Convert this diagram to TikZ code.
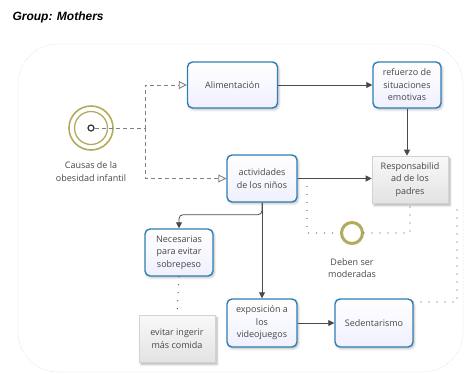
\documentclass[tikz,border=0pt]{standalone}
\usepackage{fontspec}
\setmainfont{Open Sans}
\newfontfamily\titlefont{Liberation Sans}
\usetikzlibrary{arrows.meta,shadows.blur}
\definecolor{boxblue}{HTML}{2E7DB5}
\definecolor{txt}{HTML}{474747}
\definecolor{olive}{HTML}{B2AA5E}
\definecolor{lineg}{HTML}{4A4A4A}
\begin{document}
\begin{tikzpicture}[x=1pt,y=-1pt,
  every node/.style={font=\fontsize{9}{12.5}\selectfont, text=txt, align=center},
  taskbox/.style={draw=boxblue, line width=1.4pt, rounded corners=5pt,
    top color=white, bottom color=blue!6, inner sep=2pt,
    blur shadow={shadow xshift=1.5pt, shadow yshift=-1.8pt, shadow opacity=25, shadow blur steps=5}},
  notebox/.style={draw=gray!35, line width=0.6pt, top color=gray!5, bottom color=gray!22, inner sep=2pt,
    blur shadow={shadow xshift=2pt, shadow yshift=-2.5pt, shadow opacity=30, shadow blur steps=5}},
  flow/.style={draw=lineg, line width=0.8pt, -{Triangle[length=6pt,width=6pt]}},
  dflow/.style={draw=gray, line width=0.9pt, dash pattern=on 4pt off 3pt, -{Triangle[open,length=8pt,width=8pt,fill=white]}},
  assoc/.style={draw=lineg, line width=1.2pt, line cap=round, dash pattern=on 0pt off 8pt},
]
\useasboundingbox (0,0) rectangle (466,373);
% pool frame
\draw[gray!35, line width=0.5pt, densely dotted, rounded corners=40pt] (18,44) rectangle (463,372);
\node[font=\titlefont\bfseries\itshape\fontsize{12}{14}\selectfont, text=black, anchor=west] (title) at (9,17) {Group: Mothers};

% tasks
\node[taskbox, minimum width=90pt, minimum height=46pt] (alim) at (232.5,85) {Alimentación};
\node[taskbox, minimum width=68pt, minimum height=46pt] (ref) at (407,85) {refuerzo de\\situaciones\\emotivas};
\node[notebox, minimum width=76pt, minimum height=47pt] (resp) at (410,179.5) {Responsabilid\\ad de los\\padres};
\node[taskbox, minimum width=70pt, minimum height=47pt] (act) at (262,178.5) {actividades\\de los niños};
\node[taskbox, minimum width=68pt, minimum height=47pt] (nec) at (179,252.5) {Necesarias\\para evitar\\sobrepeso};
\node[taskbox, minimum width=70pt, minimum height=48pt] (expo) at (262,323) {exposición a\\los\\videojuegos};
\node[notebox, minimum width=76pt, minimum height=47pt] (evit) at (177,338.5) {evitar ingerir\\más comida};
\node[taskbox, minimum width=78pt, minimum height=48pt] (sed) at (374,323) {Sedentarismo};

% start event
\node[circle, draw=olive, line width=1.6pt, minimum size=44pt, inner sep=0pt, fill=white] (start) at (91,128) {};
\node[circle, draw=olive, line width=1.3pt, minimum size=33pt, inner sep=0pt] (startin) at (91,128) {};
\node[circle, draw=black!80, line width=1.2pt, minimum size=6pt, inner sep=0pt, fill=white] (startdot) at (91,128) {};
\node (startlbl) at (91,171.5) {Causas de la\\obesidad infantil};

% intermediate event
\node[circle, draw=olive, line width=3pt, minimum size=21pt, inner sep=0pt, fill=white] (ev) at (352,233) {};
\node (evlbl) at (352,268) {Deben ser\\moderadas};

% dashed flows
\coordinate (j) at (145,128);
\draw[dflow] (startdot.east) -- (j) |- (alim.west);
\draw[dflow] (j) |- (act.west);

% solid flows
\draw[flow] (alim.east) -- (ref.west);
\draw[flow] (ref.south) -- (ref.south |- resp.north);
\draw[flow] (act.east) -- (resp.west |- act.east);
\draw[flow, rounded corners=4pt] (act.south) -- ++(0,12) -| (nec.north);
\draw[flow] (act.south) -- (expo.north);
\draw[flow] (expo.east) -- (sed.west);

% associations
\coordinate (a1) at (307,178.5);
\draw[assoc] (a1) |- (ev.west);
\draw[assoc] (ev.east) -| (resp.south);
\coordinate (s1) at (413,302);
\coordinate (s2) at (457,207);
\draw[assoc] (s1) -| (s2);
\draw[assoc] (nec.south) -- (evit.north);
\end{tikzpicture}
\end{document}
